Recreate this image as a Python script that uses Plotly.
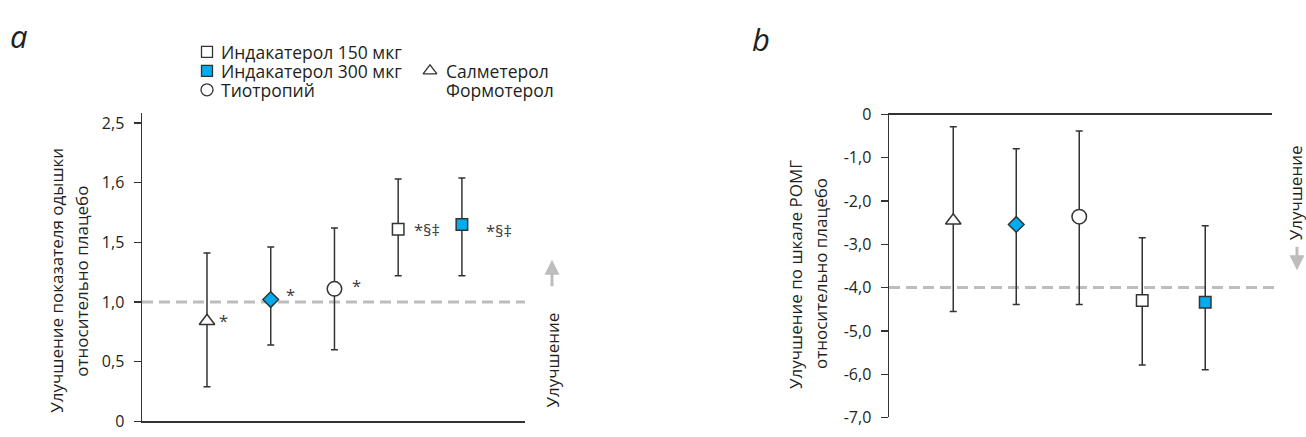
import plotly.graph_objects as go

# ---------------- data ----------------
categories = ["Салметерол", "Формотерол", "Тиотропий", "Индакатерол 150 мкг", "Индакатерол 300 мкг"]
positions = [1, 2, 3, 4, 5]
symbols = ["triangle-up", "diamond", "circle", "square", "square"]
marker_sizes = [13.5, 12, 14.5, 11.5, 11.5]
BLUE = "#00AEEF"
fills = ["white", BLUE, "white", "white", BLUE]

# panel a: dyspnoea index improvement vs placebo
a_vals = [0.84, 1.02, 1.11, 1.61, 1.65]
a_hi = [1.41, 1.46, 1.62, 2.03, 2.04]
a_lo = [0.29, 0.64, 0.60, 1.22, 1.22]
a_marks = ["*", "*", "*", "*§‡", "*§‡"]
a_ref = 1.0
a_tickvals = [0, 0.5, 1.0, 1.5, 2.0, 2.5]
a_ticktext = ["0", "0,5", "1,0", "1,5", "1,6", "2,5"]

# panel b: SGRQ improvement vs placebo
b_vals = [-2.45, -2.54, -2.36, -4.30, -4.34]
b_hi = [-0.28, -0.79, -0.38, -2.85, -2.57]
b_lo = [-4.55, -4.39, -4.39, -5.79, -5.90]
b_ref = -4.0
b_tickvals = [0, -1, -2, -3, -4, -5, -6, -7]
b_ticktext = ["0", "-1,0", "-2,0", "-3,0", "-4,0", "-5,0", "-6,0", "-7,0"]

legend_left = ["Индакатерол 150 мкг", "Индакатерол 300 мкг", "Тиотропий"]
legend_right = ["Салметерол", "Формотерол"]

# ---------------- style ----------------
W, H = 1306, 437
FONT = "Open Sans"
TXT = "#231f20"
AX = "#333333"
GREY = "#bdbdbd"


def px(x):
    return x / W


def py(y):
    return 1 - y / H


fig = go.Figure()

err_common = dict(color=AX, thickness=1.5, width=3.5)

for i in range(len(categories)):
    fig.add_trace(go.Scatter(
        x=[positions[i]], y=[a_vals[i]], mode="markers", name=categories[i],
        marker=dict(symbol=symbols[i], size=marker_sizes[i], color=fills[i],
                    line=dict(color=AX, width=1.5)),
        error_y=dict(type="data", symmetric=False,
                     array=[a_hi[i] - a_vals[i]], arrayminus=[a_vals[i] - a_lo[i]],
                     **err_common),
        xaxis="x", yaxis="y", showlegend=False, cliponaxis=False))
    fig.add_trace(go.Scatter(
        x=[positions[i]], y=[b_vals[i]], mode="markers", name=categories[i],
        marker=dict(symbol=symbols[i], size=marker_sizes[i], color=fills[i],
                    line=dict(color=AX, width=1.5)),
        error_y=dict(type="data", symmetric=False,
                     array=[b_hi[i] - b_vals[i]], arrayminus=[b_vals[i] - b_lo[i]],
                     **err_common),
        xaxis="x2", yaxis="y2", showlegend=False, cliponaxis=False))

# legend symbols on an overlay pixel axis
leg_sym = [("square", "white", 207, 43), ("square", BLUE, 207, 63),
           ("circle", "white", 207, 83), ("triangle-up", "white", 430, 63)]
for sym, col, lx, ly in leg_sym:
    fig.add_trace(go.Scatter(
        x=[lx], y=[ly], mode="markers",
        marker=dict(symbol=sym, size=12 if sym != "square" else 11, color=col,
                    line=dict(color=AX, width=1.3)),
        xaxis="x3", yaxis="y3", showlegend=False, hoverinfo="skip", cliponaxis=False))

axis_font = dict(family=FONT, size=16, color=TXT)

fig.update_layout(
    width=W, height=H, margin=dict(l=0, r=0, t=0, b=0),
    paper_bgcolor="white", plot_bgcolor="rgba(0,0,0,0)", showlegend=False,
    font=dict(family=FONT, color=TXT), hovermode=False,
    xaxis=dict(domain=[px(142), px(525)], range=[-0.02, 5.99], showline=True,
               linecolor=AX, linewidth=1.5, showticklabels=False, ticks="",
               showgrid=False, zeroline=False, anchor="y"),
    yaxis=dict(domain=[py(432), py(107)], range=[0, 2.5 + 11 / 125.6],
               showline=True, linecolor=AX, linewidth=1.5, ticks="outside",
               ticklen=7, tickwidth=1.2, tickcolor=AX,
               tickvals=a_tickvals, ticktext=a_ticktext, tickfont=axis_font,
               ticklabeloverflow="allow",
               showgrid=False, zeroline=False, anchor="x", ticklabelstandoff=6),
    xaxis2=dict(domain=[px(889), px(1272)], range=[-0.02, 6.06], showline=True,
                side="top", linecolor=AX, linewidth=1.5, showticklabels=False,
                ticks="", showgrid=False, zeroline=False, anchor="y2"),
    yaxis2=dict(domain=[py(428), py(109)], range=[-7, 0],
                showline=True, linecolor=AX, linewidth=1.5, ticks="outside",
                ticklen=7, tickwidth=1.2, tickcolor=AX,
                tickvals=b_tickvals, ticktext=b_ticktext, tickfont=axis_font,
                ticklabeloverflow="allow",
                showgrid=False, zeroline=False, anchor="x2", ticklabelstandoff=6),
    xaxis3=dict(domain=[0, 1], range=[0, W], visible=False, anchor="y3"),
    yaxis3=dict(domain=[0, 1], range=[H, 0], visible=False, anchor="x3"),
)

# dashed reference lines
fig.add_shape(type="line", xref="x domain", yref="y", x0=0, x1=1, y0=a_ref, y1=a_ref,
              line=dict(color=GREY, width=3, dash="11px,6px"), layer="below")
fig.add_shape(type="line", xref="x2 domain", yref="y2", x0=0, x1=1.01, y0=b_ref, y1=b_ref,
              line=dict(color=GREY, width=3, dash="11px,6px"), layer="below")

ann = []
# significance marks
a_shift = [(16, 1), (20, 5), (22, 3), (29, 0), (37, -6)]
for i, m in enumerate(a_marks):
    ann.append(dict(x=positions[i], y=a_vals[i], xref="x", yref="y", text=m,
                    showarrow=False, xshift=a_shift[i][0], yshift=a_shift[i][1],
                    xanchor="center", yanchor="middle",
                    font=dict(family=FONT, size=16.5, color="#3a3a3a")))

# y-axis titles
def vtitle(x, y, text):
    return dict(x=px(x), y=py(y), xref="paper", yref="paper", text=text,
                textangle=-90, showarrow=False, xanchor="center", yanchor="middle",
                font=dict(family=FONT, size=17, color=TXT))

ann += [vtitle(57, 284, "Улучшение показателя одышки"),
        vtitle(82, 284, "относительно плацебо"),
        vtitle(795, 278, "Улучшение по шкале РОМГ"),
        vtitle(820, 277, "относительно плацебо"),
        vtitle(552, 368, "Улучшение"),
        vtitle(1295, 192, "Улучшение")]

# improvement arrows
ann.append(dict(x=px(552), y=py(262), xref="paper", yref="paper", ax=0, ay=28,
                text="", showarrow=True, arrowhead=2, arrowsize=1, arrowwidth=3,
                arrowcolor=GREY))
ann.append(dict(x=px(1297), y=py(273), xref="paper", yref="paper", ax=0, ay=-25,
                text="", showarrow=True, arrowhead=2, arrowsize=1, arrowwidth=3,
                arrowcolor=GREY))

# panel letters
ann.append(dict(x=px(19), y=py(26), xref="paper", yref="paper", text="<i>a</i>",
                xanchor="center", yanchor="middle",
                showarrow=False, font=dict(family=FONT, size=31, color=TXT)))
ann.append(dict(x=px(761), y=py(29), xref="paper", yref="paper", text="<i>b</i>",
                xanchor="center", yanchor="middle",
                showarrow=False, font=dict(family=FONT, size=31, color=TXT)))

# legend text
leg_font = dict(family=FONT, size=17.5, color=TXT)
for t, ly in zip(legend_left, [43, 63, 83]):
    ann.append(dict(x=px(219), y=py(ly), xref="paper", yref="paper", text=t,
                    showarrow=False, xanchor="left", yanchor="middle", font=leg_font))
for t, ly in zip(legend_right, [63, 83]):
    ann.append(dict(x=px(444), y=py(ly), xref="paper", yref="paper", text=t,
                    showarrow=False, xanchor="left", yanchor="middle", font=leg_font))

fig.update_layout(annotations=ann)
fig.write_html("out.html",
               config={"displayModeBar": False, "staticPlot": True},
               post_script="document.body.style.margin='0px';document.body.style.padding='0px';")
